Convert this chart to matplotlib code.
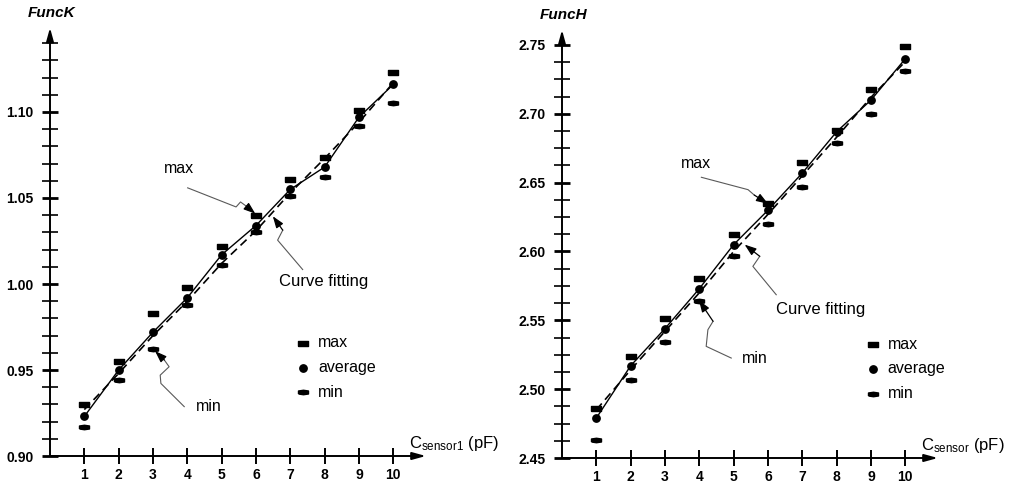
import numpy as np
import matplotlib
matplotlib.use("AGG")
import matplotlib.pyplot as plt

plt.rcParams["font.family"] = ["Liberation Sans", "DejaVu Sans"]
plt.rcParams["mathtext.default"] = "regular"

# --- data ---
c_sensor = [1, 2, 3, 4, 5, 6, 7, 8, 9, 10]

funck_max = [0.930, 0.955, 0.983, 0.998, 1.022, 1.040, 1.061, 1.074, 1.101, 1.123]
funck_avg = [0.923, 0.950, 0.972, 0.992, 1.017, 1.034, 1.055, 1.068, 1.097, 1.116]
funck_min = [0.917, 0.944, 0.962, 0.988, 1.011, 1.030, 1.051, 1.062, 1.092, 1.105]
funck_fit = [0.927, 0.948, 0.970, 0.990, 1.012, 1.031, 1.053, 1.073, 1.094, 1.117]

funch_max = [2.486, 2.524, 2.552, 2.581, 2.613, 2.635, 2.665, 2.688, 2.718, 2.749]
funch_avg = [2.479, 2.517, 2.544, 2.573, 2.605, 2.630, 2.657, 2.687, 2.710, 2.740]
funch_min = [2.463, 2.507, 2.534, 2.564, 2.597, 2.620, 2.647, 2.679, 2.700, 2.731]
funch_fit = [2.485, 2.514, 2.542, 2.570, 2.600, 2.627, 2.655, 2.683, 2.712, 2.738]

funck_ticks = [0.90, 0.95, 1.00, 1.05, 1.10]
funch_ticks = [2.45, 2.50, 2.55, 2.60, 2.65, 2.70, 2.75]

# marker shapes
bar_max = [(-1, -0.5), (1, -0.5), (1, 0.5), (-1, 0.5), (-1, -0.5)]
bar_min = [(-1, -0.3), (0, -0.45), (1, -0.3), (1, 0.3), (0, 0.45), (-1, 0.3), (-1, -0.3)]

PX = 34.33  # pixels per pF
MS_BAR = 7.2
MS_DOT = 5.3


def leader(ax, pts, tip):
    xs = [p[0] for p in pts]
    ys = [p[1] for p in pts]
    ax.plot(xs, ys, color="0.35", lw=0.8, clip_on=False, zorder=2)
    ax.annotate("", xy=tip, xytext=pts[-1],
                arrowprops=dict(arrowstyle="-|>,head_length=0.7,head_width=0.25",
                                color="k", lw=0.9, shrinkA=0, shrinkB=0),
                annotation_clip=False)


def draw_panel(ax, ymin, ytop, ppu, ymax_v, yavg_v, ymin_v, yfit_v, majors, minors,
               ylab, xlab, arrow_top, fmt):
    ax.set_xlim(0, ax.get_position().width * 1010 / PX)
    ax.set_ylim(ymin, ytop)
    for s in ax.spines.values():
        s.set_visible(False)
    ax.patch.set_alpha(0)

    # axes with arrows
    ax.annotate("", xy=(10.95, ymin), xytext=(0, ymin),
                arrowprops=dict(arrowstyle="-|>,head_length=0.8,head_width=0.22",
                                color="k", lw=1.4, shrinkA=0, shrinkB=0),
                annotation_clip=False)
    ax.annotate("", xy=(0, arrow_top), xytext=(0, ymin),
                arrowprops=dict(arrowstyle="-|>,head_length=0.8,head_width=0.22",
                                color="k", lw=1.4, shrinkA=0, shrinkB=0),
                annotation_clip=False)

    ax.set_xticks(c_sensor)
    ax.set_yticks(majors)
    ax.set_yticks(minors, minor=True)
    ax.set_yticklabels([fmt % v for v in majors])
    ax.tick_params(axis="y", which="major", direction="inout", length=12, width=2,
                   pad=6, labelsize=10)
    ax.tick_params(axis="y", which="minor", direction="inout", length=11, width=1.2)
    ax.tick_params(axis="x", which="major", direction="inout", length=11, width=1.4,
                   pad=3, labelsize=10)
    for lab in ax.get_xticklabels() + ax.get_yticklabels():
        lab.set_fontweight("bold")

    ax.plot(c_sensor, yfit_v, color="k", lw=1.2, ls=(0, (5, 3)), zorder=3)
    ax.plot(c_sensor, yavg_v, color="k", lw=1.0, zorder=3)
    ax.plot(c_sensor, ymax_v, ls="none", marker=bar_max, ms=MS_BAR, color="k", zorder=4)
    ax.plot(c_sensor, yavg_v, ls="none", marker="o", ms=MS_DOT, color="k", zorder=4)
    ax.plot(c_sensor, ymin_v, ls="none", marker=bar_min, ms=MS_BAR, color="k", zorder=4)

    ax.text(0.05, ymin + 443 / ppu, ylab, ha="center", va="center",
            fontsize=11, fontweight="bold", fontstyle="italic")
    ax.text(10.45, ymin + 3 / ppu, xlab, ha="left", va="bottom", fontsize=12)


fig = plt.figure(figsize=(10.1, 4.87), dpi=100)

# left panel: FuncK
axl = fig.add_axes([50 / 1010, (487 - 456) / 487, 450 / 1010, 451 / 487])
ppu_l = 1720.0
draw_panel(axl, 0.90, 0.90 + 451 / ppu_l, ppu_l, funck_max, funck_avg, funck_min,
           funck_fit, funck_ticks,
           [v for v in np.round(np.arange(0.91, 1.1401, 0.01), 3) if v not in funck_ticks],
           "FuncK", r"$C_{sensor1}$ (pF)", 1.149, "%.2f")

axl.text(3.76, 1.0674, "max", ha="center", va="center", fontsize=11.5)
leader(axl, [(4.01, 1.0559), (5.42, 1.0448), (5.55, 1.0477), (5.72, 1.0452)], (5.98, 1.0409))
axl.text(7.98, 1.0017, "Curve fitting", ha="center", va="center", fontsize=12)
leader(axl, [(7.36, 1.0084), (6.63, 1.0255), (6.78, 1.0313)], (6.49, 1.0394))
axl.text(4.63, 0.9285, "min", ha="center", va="center", fontsize=11.5)
leader(axl, [(3.91, 0.9287), (3.23, 0.9422), (3.21, 0.947), (3.47, 0.9519), (3.33, 0.9558)],
       (3.06, 0.961))

# legend left
for yy, mk, lab, ms in [(0.9657, bar_max, "max", MS_BAR), (0.9512, "o", "average", MS_DOT),
                        (0.9372, bar_min, "min", MS_BAR)]:
    axl.plot([7.37], [yy], ls="none", marker=mk, ms=ms, color="k")
    axl.text(7.81, yy, lab, ha="left", va="center", fontsize=11.5)

# right panel: FuncH
axr = fig.add_axes([562 / 1010, (487 - 458) / 487, 443 / 1010, 453 / 487])
ppu_r = 1376.7
draw_panel(axr, 2.45, 2.45 + 453 / ppu_r, ppu_r, funch_max, funch_avg, funch_min,
           funch_fit, funch_ticks,
           [v for v in np.round(np.arange(2.4625, 2.7376, 0.0125), 4)
            if np.round(v, 3) not in funch_ticks],
           "FuncH", r"$C_{sensor}$ (pF)", 2.761, "%.2f")

axr.text(3.89, 2.664, "max", ha="center", va="center", fontsize=11.5)
leader(axr, [(4.06, 2.6539), (5.42, 2.6449), (5.6, 2.641)], (6.0, 2.6347))
axr.text(7.53, 2.558, "Curve fitting", ha="center", va="center", fontsize=12)
leader(axr, [(6.24, 2.5686), (5.56, 2.5892), (5.76, 2.5965)], (5.32, 2.605))
axr.text(5.61, 2.522, "min", ha="center", va="center", fontsize=11.5)
leader(axr, [(4.93, 2.5226), (4.20, 2.5311), (4.25, 2.5432), (4.40, 2.5493)], (3.99, 2.5645))

for yy, mk, lab, ms in [(2.5328, bar_max, "max", MS_BAR), (2.5149, "o", "average", MS_DOT),
                        (2.4965, bar_min, "min", MS_BAR)]:
    axr.plot([9.06], [yy], ls="none", marker=mk, ms=ms, color="k")
    axr.text(9.49, yy, lab, ha="left", va="center", fontsize=11.5)

fig.savefig("out.png", dpi=100)
